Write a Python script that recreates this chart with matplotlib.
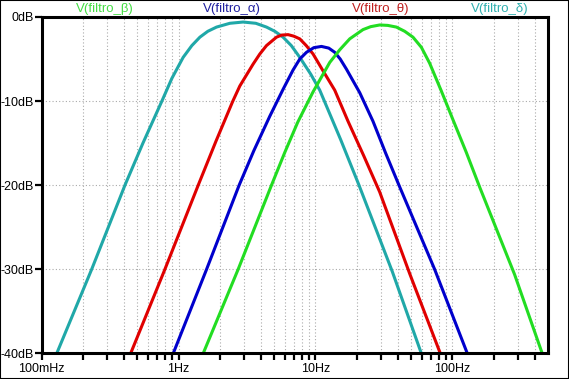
import matplotlib
matplotlib.use("Agg")
import matplotlib.pyplot as plt
from matplotlib.patches import Rectangle
from matplotlib.ticker import FixedLocator, FixedFormatter, NullFormatter

plt.rcParams.update({"font.size": 9, "font.family": ["Liberation Sans", "DejaVu Sans"]})

# filter responses (Hz, dB)
f_delta = [0.1287, 0.2317, 0.4055, 0.5488, 0.755, 0.893, 1.080, 1.250, 1.431, 1.636, 1.894, 2.369,
           2.961, 3.666, 4.388, 5.045, 5.800, 6.660, 7.680, 9.24, 10.75, 15.30, 20.81, 36.5, 59.4]
db_delta = [-40, -30, -20, -15, -10, -7.3, -4.8, -3.4, -2.4, -1.7, -1.2, -0.75,
            -0.6, -0.75, -1.2, -1.7, -2.4, -3.4, -4.8, -6.8, -8.7, -14.6, -20, -30.3, -40]

f_theta = [0.4463, 0.794, 1.391, 1.872, 2.491, 2.802, 3.504, 3.922, 4.388, 5.192, 5.675, 6.310,
           6.944, 7.680, 8.566, 9.605, 11.36, 13.83, 17.30, 22.53, 29.46, 48.78, 81.73]
db_theta = [-40, -30, -20, -14.8, -10, -8.2, -5.6, -4.4, -3.4, -2.4, -2.15, -2.1,
            -2.28, -2.6, -3.4, -4.4, -6.4, -8.7, -12.4, -16.5, -20.8, -30.5, -40]

f_alpha = [0.9134, 1.601, 2.769, 3.545, 4.638, 5.800, 6.862, 7.680, 8.596, 9.719, 11.06,
           12.51, 13.83, 15.17, 16.84, 21.06, 26.33, 32.60, 40.76, 74.28, 128.7]
db_alpha = [-40, -30, -20, -15.9, -11.8, -8.6, -6.3, -5.0, -4.2, -3.65, -3.5,
            -3.7, -4.2, -5.0, -6.2, -9.0, -12.4, -16.2, -20, -30, -40]

f_beta = [1.512, 2.723, 4.772, 5.968, 7.426, 9.605, 12.72, 15.05, 17.80, 22.26, 25.33, 29.46,
          33.71, 39.01, 44.86, 51.58, 59.38, 68.30, 83.12, 101.0, 126.5, 158.2, 284.9, 453.9]
db_beta = [-40, -30, -20, -16.1, -12.5, -8.9, -5.4, -3.9, -2.6, -1.5, -1.15, -0.95,
           -1.0, -1.2, -1.7, -2.4, -3.6, -5.5, -8.8, -12.2, -16.1, -20.2, -30.6, -40]

names = ["V(filtro_β)", "V(filtro_α)", "V(filtro_θ)", "V(filtro_δ)"]
x_ticks = [0.1, 1, 10, 100]
x_labels = ["100mHz", "1Hz", "10Hz", "100Hz"]
y_ticks = [0, -10, -20, -30, -40]
y_labels = ["0dB", "-10dB", "-20dB", "-30dB", "-40dB"]

GREEN = "#22DD22"; BLUE = "#0000CC"; RED = "#E00000"; TEAL = "#20A8A8"

fig = plt.figure(figsize=(5.69, 3.79), dpi=100)
ax = fig.add_axes([0.0733, 0.0673, 0.8898, 0.8879])

lw = 2.2
ax.plot(f_delta, db_delta, color=TEAL, lw=lw, solid_joinstyle="round")
ax.plot(f_theta, db_theta, color=RED, lw=lw, solid_joinstyle="round")
ax.plot(f_alpha, db_alpha, color=BLUE, lw=lw, solid_joinstyle="round")
ax.plot(f_beta, db_beta, color=GREEN, lw=lw, solid_joinstyle="round")

ax.set_xscale("log")
ax.set_xlim(0.1, 500)
ax.set_ylim(-40, 0)

minor = [m * d for d in [0.1, 1, 10, 100] for m in range(2, 10) if m * d < 500]
ax.xaxis.set_major_locator(FixedLocator(x_ticks))
ax.xaxis.set_major_formatter(FixedFormatter(x_labels))
ax.xaxis.set_minor_locator(FixedLocator(minor))
ax.xaxis.set_minor_formatter(NullFormatter())
ax.set_yticks(y_ticks)
ax.set_yticklabels(y_labels)

ax.tick_params(axis="both", which="both", direction="out", length=5, width=1.6,
               color="black", labelsize=9)
ax.tick_params(axis="y", pad=0.5)
ax.tick_params(axis="x", pad=2)
for s in ax.spines.values():
    s.set_linewidth(2.2)

ax.grid(True, which="both", axis="x", color="#aaaaaa", linestyle=(0, (1, 2)), linewidth=0.8)
ax.grid(True, which="major", axis="y", color="#aaaaaa", linestyle=(0, (1, 2)), linewidth=0.8)
ax.set_axisbelow(True)

label_x = [105, 232, 381, 500]
label_c = ["#44DD44", "#2020A0", "#C02020", "#30B0B0"]
for n, xp, c in zip(names, label_x, label_c):
    fig.text(xp / 569, 1 - 9 / 379, n, color=c, ha="center", va="center", fontsize=9.5)

fig.patches.append(Rectangle((0, 0), 1, 1, transform=fig.transFigure, fill=False,
                             edgecolor="black", linewidth=1.5))

fig.savefig("out.png", dpi=100)
plt.close()
